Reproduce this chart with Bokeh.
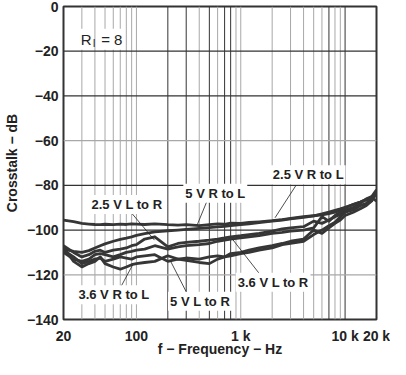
from bokeh.plotting import figure
from bokeh.models import Span, Label, FixedTicker
from bokeh.embed import file_html
from bokeh.resources import INLINE

# ---- data ----
freq = [20, 25, 30, 35, 40, 45, 50, 60, 70, 80, 90, 100, 120, 150, 200, 250, 300, 400,
        500, 600, 700, 800, 1000, 1200, 1500, 2000, 2500, 3000, 4000, 5000, 6000, 7000,
        8000, 9000, 10000, 12000, 14000, 16000, 18000, 20000]

v5_r_to_l = [-95.5, -96.2, -97.0, -97.3, -97.5, -97.6, -97.4, -97.6, -97.3, -97.5, -97.2, -97.3,
             -97.5, -97.2, -97.6, -97.8, -97.6, -98.0, -97.6, -97.2, -97.4, -96.9, -97.0, -96.6,
             -96.3, -95.8, -95.3, -94.8, -94.0, -93.6, -93.2, -92.6, -92.0, -91.2, -90.0, -88.5,
             -87.5, -86.5, -86.0, -83.0]
v25_r_to_l = [-108.5, -109.5, -110.0, -109.2, -108.0, -107.0, -106.2, -105.0, -104.2, -103.6, -103.0,
              -102.4, -101.6, -100.8, -100.3, -100.0, -99.7, -99.2, -98.9, -98.6, -98.3, -98.0, -97.6,
              -97.2, -96.7, -96.0, -95.5, -95.0, -94.3, -93.6, -92.8, -92.0, -91.2, -90.5, -89.8,
              -88.6, -87.5, -86.2, -85.5, -87.0]
v25_l_to_r = [-107.0, -110.0, -112.0, -111.0, -109.5, -109.0, -110.0, -109.0, -108.5, -108.0, -107.0,
              -106.5, -104.0, -103.0, -107.5, -106.0, -105.5, -105.0, -104.5, -104.0, -103.5, -103.0,
              -102.5, -102.0, -101.5, -100.5, -99.5, -99.0, -98.5, -96.0, -97.0, -95.5, -94.0, -93.0,
              -92.0, -90.0, -89.0, -88.0, -86.0, -84.0]
v36_l_to_r = [-110.0, -113.0, -114.0, -113.0, -111.0, -110.5, -111.0, -112.0, -111.0, -110.0, -109.5,
              -109.0, -108.5, -107.0, -108.5, -107.5, -107.0, -106.5, -106.0, -105.0, -104.5, -104.0,
              -103.5, -103.0, -102.5, -101.5, -101.0, -100.5, -100.0, -99.0, -94.0, -96.0, -93.5,
              -92.0, -91.0, -90.0, -88.0, -86.0, -85.0, -82.0]
v5_l_to_r = [-109.0, -112.0, -115.0, -114.0, -113.0, -112.5, -114.0, -113.0, -112.0, -112.5, -113.0,
             -112.0, -111.5, -111.0, -114.0, -113.0, -113.5, -114.5, -115.0, -113.0, -112.0, -111.5,
             -110.5, -110.0, -109.0, -108.0, -106.5, -106.0, -105.0, -102.0, -100.0, -98.0, -96.5,
             -94.0, -92.0, -91.0, -89.0, -88.5, -85.0, -84.0]
v36_r_to_l = [-108.0, -114.0, -116.5, -115.0, -114.0, -112.0, -115.0, -116.5, -117.5, -116.5, -115.5,
              -115.0, -114.5, -114.0, -111.5, -113.0, -112.5, -113.0, -112.0, -111.5, -112.0, -110.5,
              -110.0, -109.0, -108.0, -107.0, -106.0, -105.0, -104.0, -100.0, -101.5, -99.0, -97.0,
              -95.5, -93.5, -92.0, -90.5, -89.0, -87.0, -83.0]

series = [v5_r_to_l, v25_r_to_l, v25_l_to_r, v36_l_to_r, v5_l_to_r, v36_r_to_l]

x_ticks = [20, 100, 1000, 10000, 20000]
x_tick_labels = ["20", "100", "1 k", "10 k", "20 k"]
y_ticks = [0, -20, -40, -60, -80, -100, -120, -140]
y_tick_labels = ["0", "\u221220", "\u221240", "\u221260", "\u221280", "\u2212100", "\u2212120", "\u2212140"]

# annotation texts, anchor (Hz, dB) and leader lines (Hz, dB) -> (Hz, dB)
ann_text = ["2.5 V R to L", "5 V R to L", "2.5 V L to R", "3.6 V L to R", "5 V L to R", "3.6 V R to L"]
ann_x = [4428, 570, 81, 2041, 407, 60.7]
ann_y = [-75.3, -83.5, -88.6, -123.3, -131.8, -128.9]
lead_x0 = [3374, 472, 88.4, 1556, 310, 70]
lead_y0 = [-80.1, -87.3, -92.0, -120.3, -128.9, -125.9]
lead_x1 = [2130, 383, 149, 830, 213, 92]
lead_y1 = [-94.5, -97.6, -104.5, -104.0, -114.0, -115.6]

FONT = "Liberation Sans"
DARK = "#333333"
LIGHT = "#a8a8a8"

p = figure(width=390, height=359, x_axis_type="log", x_range=(20, 20000), y_range=(-140, 0),
           output_backend="svg", toolbar_location=None,
           min_border_left=10, min_border_right=14, min_border_top=6, min_border_bottom=0)
p.background_fill_color = "white"
p.border_fill_color = "white"
p.outline_line_color = DARK
p.outline_line_width = 2
p.xgrid.grid_line_color = None
p.ygrid.grid_line_color = None

# grid lines
vgrid = [30, 40, 50, 60, 70, 80, 90, 100, 200, 300, 400, 500, 600, 700, 800, 900, 1000,
         2000, 3000, 4000, 5000, 6000, 7000, 8000, 9000, 10000]
vdark = {200, 300, 500, 700, 800, 7000, 10000}
for g in vgrid:
    p.add_layout(Span(location=g, dimension="height", line_color=DARK if g in vdark else LIGHT,
                      line_width=1, level="underlay"))
hdark = {-20, -40, -80, -100}
for g in [-20, -40, -60, -80, -100, -120]:
    p.add_layout(Span(location=g, dimension="width", line_color=DARK if g in hdark else LIGHT,
                      line_width=1.2, level="underlay"))

for s in series:
    p.line(freq, s, line_color="#363636", line_width=2.8, line_join="round")

# leader lines
p.segment(x0=lead_x0, y0=lead_y0, x1=lead_x1, y1=lead_y1, line_color="#222222", line_width=0.8)

for t, x, y in zip(ann_text, ann_x, ann_y):
    p.add_layout(Label(x=x, y=y, text=t, text_align="center", text_baseline="middle",
                       text_font=FONT, text_font_style="bold", text_font_size="13px",
                       text_color="#222222", background_fill_color="white", padding=2))

# R_I = 8
p.add_layout(Label(x=33, y=-14.6, text="R", text_align="center", text_baseline="middle",
                   text_font=FONT, text_font_size="15px", text_color="#222222",
                   background_fill_color="white", padding=2))
p.add_layout(Label(x=33, y=-14.6, x_offset=8, y_offset=-4, text="I", text_align="center",
                   text_baseline="middle", text_font=FONT, text_font_size="10px", text_color="#222222"))
p.add_layout(Label(x=33, y=-14.6, x_offset=13, text="= 8", text_align="left", text_baseline="middle",
                   text_font=FONT, text_font_size="15px", text_color="#222222",
                   background_fill_color="white", padding=2))

# axes
p.xaxis.ticker = FixedTicker(ticks=x_ticks)
p.xaxis.major_label_overrides = {k: v for k, v in zip(x_ticks, x_tick_labels)}
p.yaxis.ticker = FixedTicker(ticks=y_ticks)
p.yaxis.major_label_overrides = {k: v for k, v in zip(y_ticks, y_tick_labels)}
for ax in (p.xaxis, p.yaxis):
    ax.axis_line_color = None
    ax.major_tick_line_color = None
    ax.minor_tick_line_color = None
    ax.major_tick_in = 0
    ax.major_tick_out = 0
    ax.major_label_text_font = FONT
    ax.major_label_text_font_style = "bold"
    ax.major_label_text_font_size = "14px"
    ax.major_label_text_color = "#222222"
    ax.axis_label_text_font = FONT
    ax.axis_label_text_font_style = "bold"
    ax.axis_label_text_font_size = "14px"
    ax.axis_label_text_color = "#222222"
    ax.major_label_standoff = 5
    ax.axis_label_standoff = 0
p.xaxis.major_label_standoff = 8
p.xaxis.axis_label_standoff = -6
p.yaxis.axis_label_standoff = 4
p.xaxis.axis_label = "f \u2212 Frequency \u2212 Hz"
p.yaxis.axis_label = "Crosstalk \u2212 dB"

open("out.html", "w").write(file_html(p, INLINE))
